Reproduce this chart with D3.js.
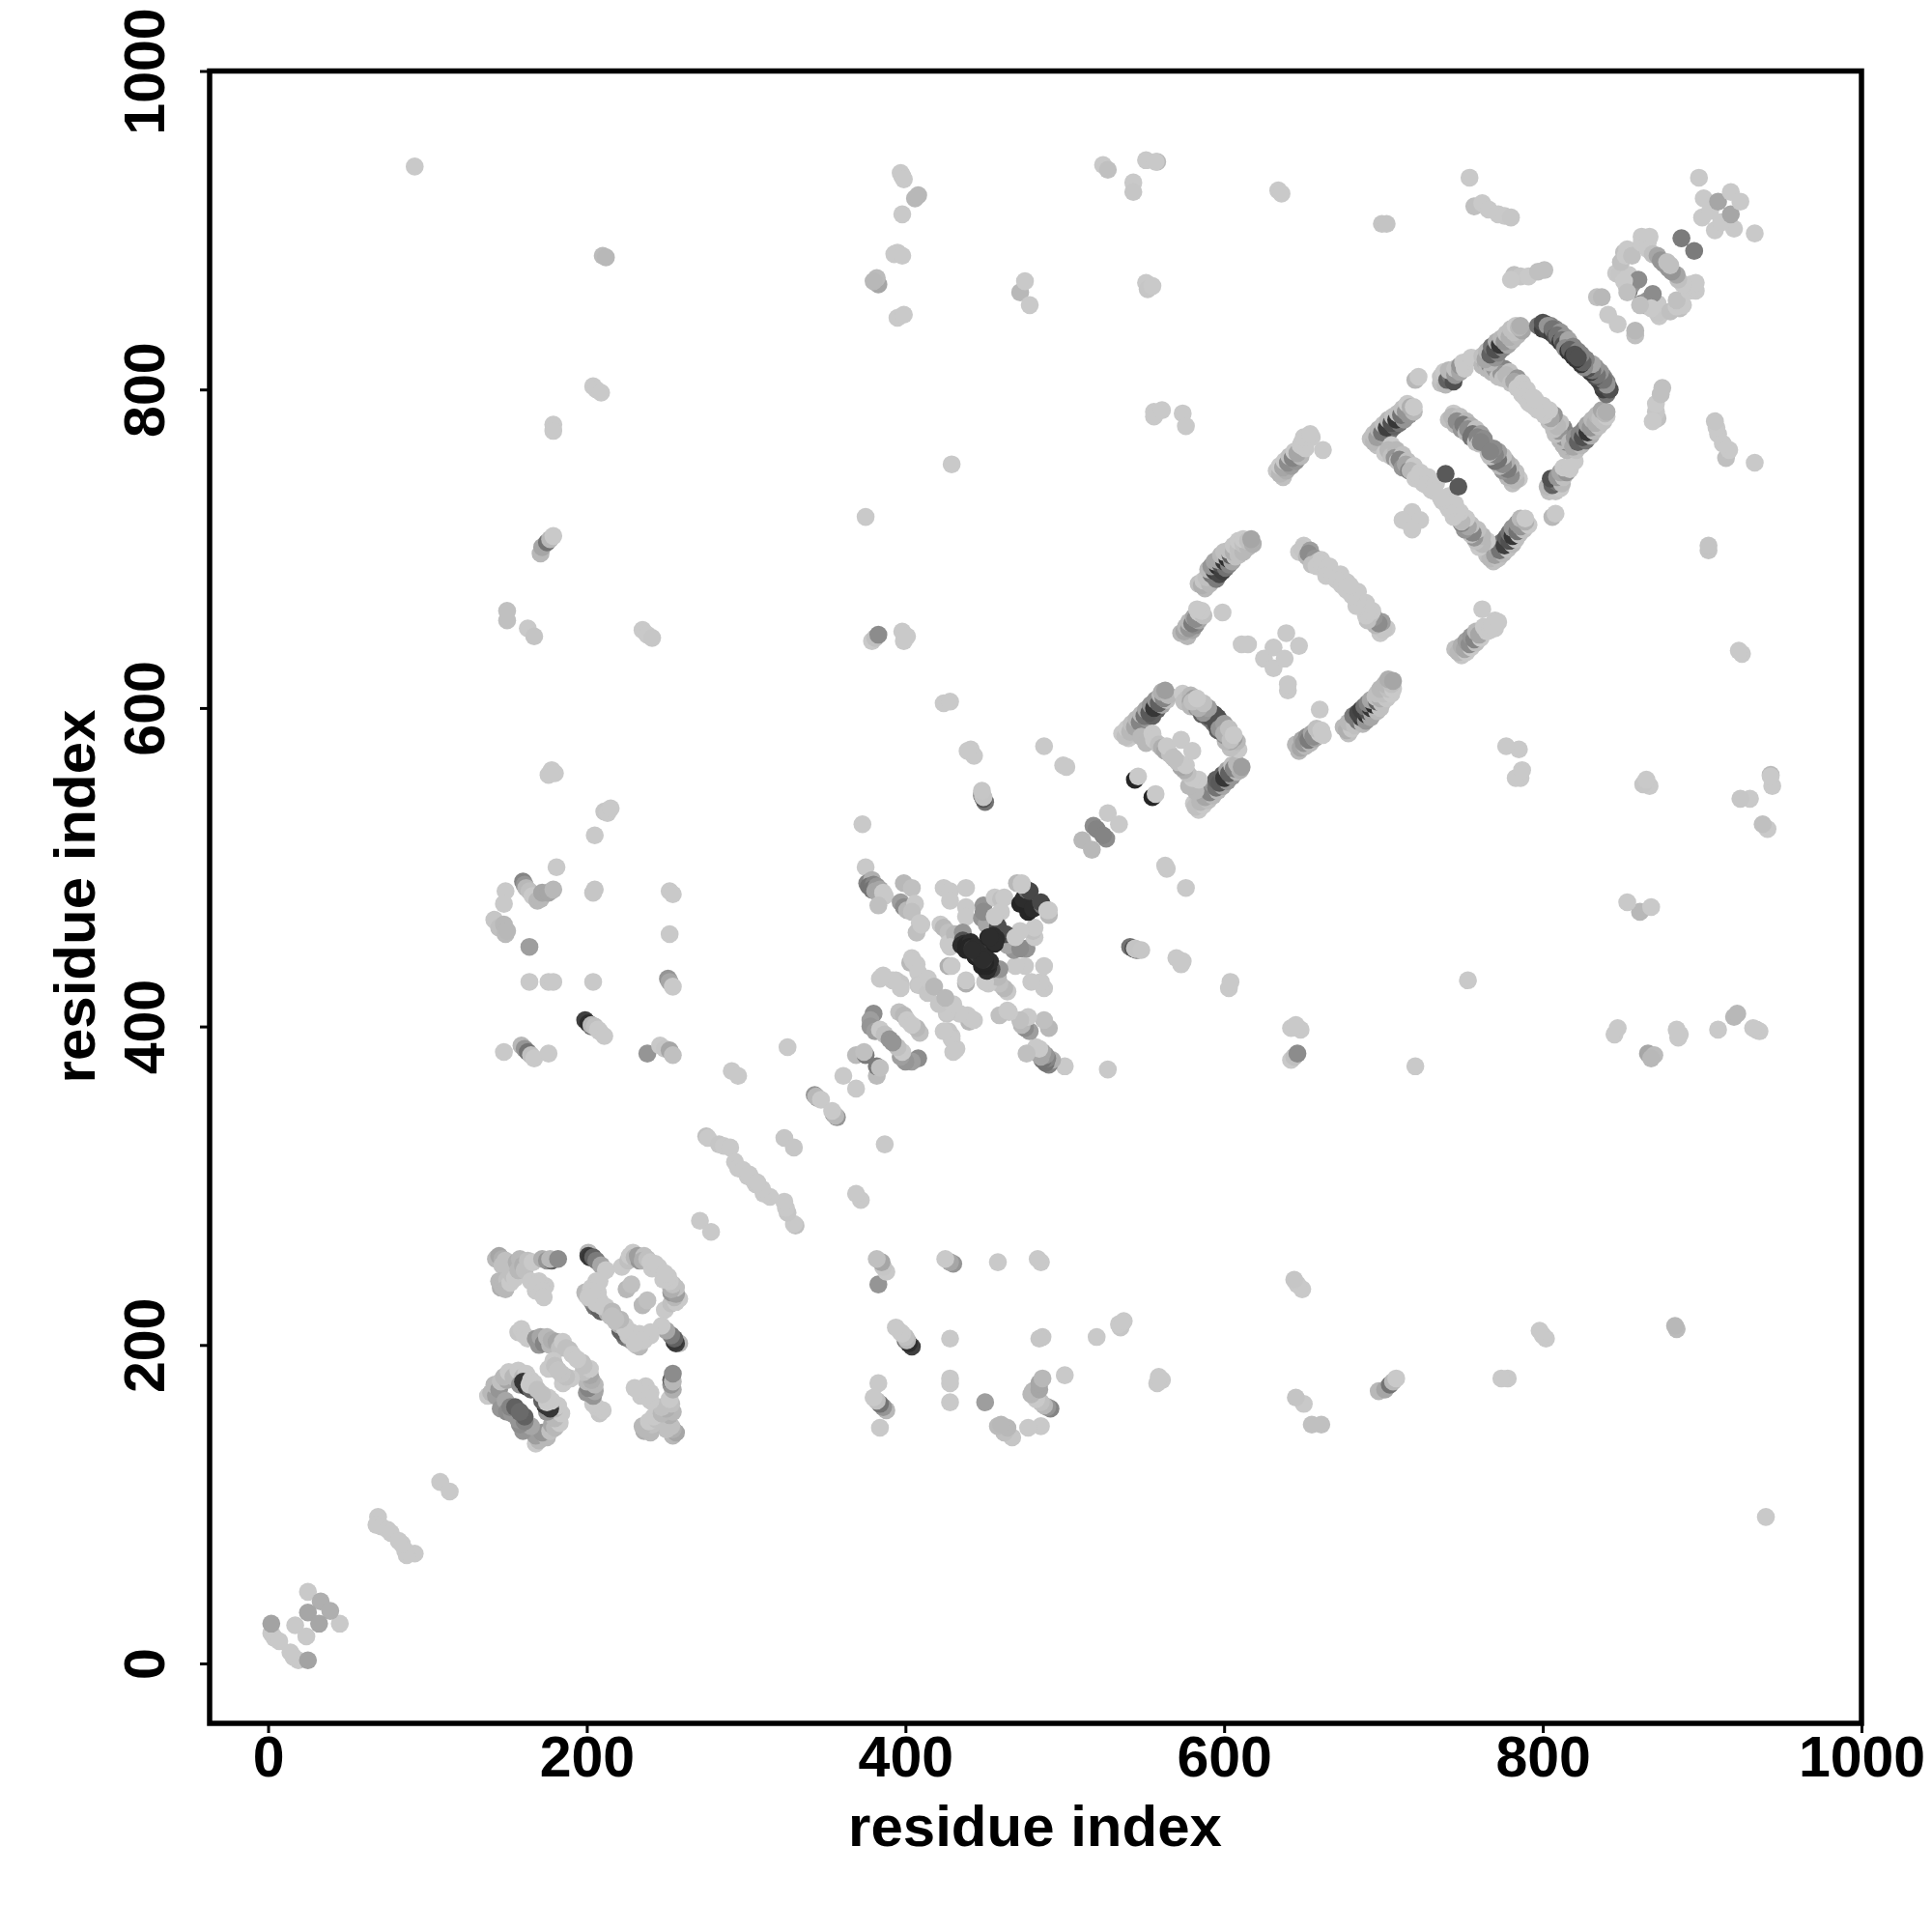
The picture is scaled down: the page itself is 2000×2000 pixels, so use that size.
<!DOCTYPE html>
<html><head><meta charset="utf-8">
<script src="https://cdn.jsdelivr.net/npm/d3@7"></script>
<style>html,body{margin:0;padding:0;background:#fff}svg{display:block}</style>
</head><body><svg id="chart" width="2000" height="2000"></svg>
<script>
const tickValues=[0,200,400,600,800,1000];
const axisTitle="residue index";
// each row: residue i, residue j, contact strength
const nTerm=[[2,19,0],[4,16,0],[7,14,0],[2,25,.22],[25,45,0],[33,39,.15],[25,32,.2],[17,24,0],[69,92,0],[68,87,0],[71,86,0],[75,84,0],[77,82,0],[108,114,0]];
const domainA=[[143,254,.1],[145,256,.2],[147,254,.15],[149,253,.05],[147,250,.05],[150,248,.05],[146,236,.15],[145,240,.1],[147,237,.1],[150,241,.05],[149,235,.1],[152,239,0],[153,244,.05],[155,242,0],[156,252,.15],[157,247,.1],[158,254,.1],[160,250,.15],[163,253,.05],[161,247,.05],[165,240,0],[166,252,0],[172,254,.15],[175,253,.3],[178,253,.6],[177,254,.1],[182,254,.35],[168,234,0],[174,237,0],[170,240,0],[169,238,0],[172,234,0],[173,230,0],
[157,208,.02],[159,210,0],[161,206,0],[163,204,0],[168,204,.3],[170,200,.3],[171,205,.2],[173,201,.4],[175,205,.1],[177,200,.1],[178,203,.15],[181,202,.2],[183,198,.05],[185,202,0],[187,198,.05],[189,197,.05],[191,194,0],[176,185,0],[179,190,0],[180,187,.05],[182,184,0],[184,182,.03],
[138,168,0],[140,170,.1],[143,168,.25],[142,175,.1],[145,172,.3],[146,177,.05],[150,178,.2],[148,180,.1],[151,183,0],[154,180,.1],[157,184,0],[160,180,.1],[162,182,0],[146,160,.3],[149,165,.2],[150,158,.35],[153,157,.3],[152,161,.4],[155,161,.6],[158,158,.55],[158,175,.3],[160,177,.85],[162,174,.85],[165,172,.6],[164,175,0],[165,178,0],[167,176,0],[169,172,.05],
[201,258,.1],[201,256,.8],[202,255,.85],[204,255,.6],[206,253,.45],[209,250,.2],[222,249,0],[226,253,.05],[227,256,0],[229,258,0],[230,255,.1],[233,253,.3],[232,256,.25],[236,256,.05],[235,253,.15],[238,254,.05],[240,252,0],[241,248,0],[243,251,0],[245,249,0],[206,240,0],[200,231,0],[199,233,.1],[202,229,.5],[204,226,.4],[205,224,.5],[207,224,.5],[208,222,.6],[209,221,.6],[203,228,.35],[205,231,.05],[202,234,.05],[206,226,0],[208,228,0],[212,224,0],[213,220,.15],[207,233,0],[203,236,0],[210,224,0],[212,247,0],[208,240,0],[203,234,0],[201,230,0],[225,235,.1],[228,238,.05],[215,218,.05],[216,221,.1],[218,216,.05]];
const chain=[[271,278,0],[275,331,.05],[276,330,0],[283,326,.02],[286,325,0],[290,324,0],[293,315,0],[295,311,0],[298,310,0],[301,306,0],[303,305,0],[302,307,0],[324,330,.02],[326,387,0],[343,357,.3],[345,355,.3],[344,356,.1],[347,354,0],[361,369,0],[369,382,.08],[375,382,.45],[374,384,.05],[291,372,0],[295,369,0]];
const longA=[[92,940,0],[150,661,.05],[150,655,.05],[163,650,0],[167,645,.03],[178,561,0],[176,558,0],[180,559,0],[179,778,0],[179,774,0],[171,697,.1],[172,701,.2],[175,704,.5],[177,706,.1],[179,708,0],[204,802,0],[206,800,0],[209,798,0],[210,884,.08],[212,883,.1],[235,649,0],[238,646,0],[241,644,.02],[211,535,.02],[213,534,0],[215,537,0],[205,520,0],[181,500,0],
[149,485,0],[148,477,0],[142,467,.02],[145,462,.05],[148,464,.1],[149,458,.08],[150,460,.1],[160,491,.4],[161,489,.3],[162,487,.1],[164,485,.05],[166,482,0],[169,479,.1],[171,480,.1],[172,484,.2],[176,484,.2],[179,486,.1],[205,486,.02],[204,484,.02],[252,485,0],[254,483,0],[252,458,0],[164,450,.25],[164,428,0],[176,428,0],[179,428,0],[204,428,0],[251,430,.3],[252,428,.2],[254,425,0],
[199,404,.8],[201,402,.9],[203,400,.5],[203,401,.1],[205,400,.05],[207,398,0],[208,397,0],[211,394,0],[148,384,0],[159,388,.1],[161,386,.3],[163,384,.5],[165,382,.05],[167,380,0],[176,383,0],[238,383,.3],[246,388,0],[249,386,.02],[252,385,.2],[254,382,.05]];
const cross=[[375,500,0],[376,490,.4],[379,492,.15],[377,488,.5],[380,489,.4],[379,486,.5],[382,488,.3],[381,485,.2],[384,486,.2],[386,484,0],[387,482,0],[383,476,.05],[399,490,.1],[404,487,.05],[397,478,.25],[399,475,.35],[401,473,.1],[406,477,0],[404,472,.05],[409,465,0],[407,459,.05],[410,464,0],[424,487,0],[428,485,0],[438,487,0],[428,479,0],[438,475,0],[438,469,0],[422,464,0],[424,462,.1],[427,459,.05],[427,452,0],[431,458,.1],[428,450,0],[436,459,.3],[436,454,.7],[435,451,.9],[437,452,.9],[438,448,.95],[438,451,.95],[441,453,.9],[440,450,.95],[442,449,.85],[444,450,.9],[444,444,.95],[445,446,.8],[447,447,.85],[449,444,.9],[448,442,.9],[449,476,.3],[448,468,.3],[451,464,.2],[449,472,.35],[456,481,0],[460,480,.05],[462,481,0],[460,472,0],[458,463,.7],[452,456,.95],[455,457,.9],[456,453,.9],[456,469,0],[470,490,.1],[472,477,.95],[474,480,.9],[476,486,.5],[478,485,.75],[473,490,0],[473,489,0],
[386,432,0],[384,430,0],[394,429,0],[397,427,.02],[392,429,0],[385,431,0],[403,440,.1],[404,443,0],[407,439,0],[405,441,0],[408,434,0],[408,426,.02],[409,426,0],[414,421,.02],[414,430,0],[418,425,.1],[397,424,0],[427,438,.15],[429,438,0],[380,408,.35],[378,404,.25],[378,400,.3],[381,397,.25],[384,398,0],[387,395,.05],[390,392,.3],[396,409,.05],[399,407,.1],[401,404,0]];
const longB=[[373,527,0],[375,720,0],[379,642,0],[381,644,.05],[383,646,.35],[398,648,0],[399,642,0],[401,645,0],[383,866,.2],[382,870,.08],[380,868,.1],[395,845,0],[399,847,0],[395,886,0],[393,885,0],[398,884,0],[398,934,.05],[397,936,0],[399,932,0],[406,920,.1],[408,922,.1],[398,910,0],[424,603,0],[428,604,0],[429,753,0],[441,574,0],[443,570,0],[439,573,0],[450,541,.5],[449,543,.7],[448,545,.5],[448,546,.2],[449,544,.03],[448,548,.02],[472,861,.1],[475,868,0],[478,853,0],[487,576,0],[499,564,0],[501,563,0],
[524,941,0],[527,938,.05],[551,944,0],[558,943,.08],[557,943,0],[543,930,0],[543,924,.02],[634,925,0],[636,923,0],[551,867,0],[552,863,.02],[555,865,0],[556,786,0],[556,783,0],[561,787,0],[574,785,0],[576,777,0]];
const middle=[[511,517,.1],[518,526,.35],[520,524,.4],[527,534,0],[544,555,.95],[546,557,0],[599,660,0],[611,640,0],[615,640,0],[639,647,0],[625,631,0],[631,638,0]];
const ringC=[[536,584,0],[540,581,0],[538,582,.05],[539,587,0],[543,584,.05],[541,585,.1],[542,590,.05],[546,587,.15],[544,588,.2],[545,593,.1],[549,590,.3],[547,591,.4],[548,596,.1],[552,593,.3],[550,595,.5],[551,599,.2],[555,595,.6],[553,597,.65],[554,602,.3],[558,599,.6],[556,600,.85],[557,605,.3],[561,602,.2],[559,603,.6],[560,608,.1],[564,605,.05],[562,606,.4],[561,610,.15],[565,608,.1],[563,611,.25],
[574,609,0],[577,606,.05],[575,604,.05],[579,608,.1],[579,604,.2],[581,606,.25],[579,601,.1],[583,600,.3],[585,603,.45],[586,596,.6],[589,600,.8],[587,598,.8],[590,594,.7],[592,597,.85],[593,591,.5],[596,594,.7],[595,590,.7],[597,587,.3],[600,590,.25],[600,584,.15],[603,587,.05],[604,580,.05],[606,583,0],
[548,582,.1],[551,578,.1],[555,584,0],[556,580,0],[559,577,.05],[561,575,.15],[563,573,.2],[566,571,.05],[564,576,0],[568,569,.05],[573,580,0]];
const strandD=[[573,647,.1],[577,645,.1],[575,648,.2],[576,651,.1],[580,649,.2],[578,650,.3],[578,654,.1],[582,652,.35],[580,653,.45],[581,657,.2],[584,655,.2],[582,656,.35],[584,660,0],[587,658,.05],[586,661,0],[583,662,0],
[584,678,.05],[588,675,.1],[586,677,.15],[587,680,.02],[591,678,.1],[589,682,.05],[592,684,.5],[595,681,.45],[590,687,.1],[594,686,.8],[597,684,.75],[592,689,.3],[596,689,.9],[599,686,.8],[594,692,.2],[598,690,.7],[601,688,.5],[596,693,.2],[600,692,.85],[603,690,.4],[598,696,.1],[602,694,.9],[605,692,.2],[600,698,.05],[604,696,.6],[607,695,.05],[603,699,.05],[606,698,.15],[609,696,.05],[606,702,.02],[609,700,.05],[612,698,.1],[609,705,0],[612,703,.05],[615,701,.1],[612,706,0],[615,705,.05],[618,703,.15],[617,706,.2],
[647,698,0],[650,702,0],[649,700,.02],[652,695,.1],[654,699,.25],[653,697,.35],[657,694,.3],[655,690,.05],[659,692,.05],[658,689,0],[661,693,0],[661,690,0],[664,686,0],[666,689,0],[664,683,0],[668,684,0],[670,681,0],[673,684,0],[671,680,0],[674,677,0],[677,679,0],
[633,749,.02],[637,745,.05],[635,747,.1],[635,752,0],[639,749,.15],[637,751,.2],[638,755,0],[642,752,.25],[640,754,.35],[641,758,.05],[645,755,.3],[643,757,.4],[644,761,0],[648,758,.1],[646,760,.2],[648,765,0],[651,763,0],[649,767,0],[652,768,0],[650,770,0],[655,770,0],[654,772,0],[662,762,0]];
const bigRing=[[713,718,0],[718,723,0],[712,718,0],[699,904,.03],[702,904,.03],[720,806,.1],[722,808,0],
[692,769,.05],[696,765,.05],[694,767,.1],[694,772,.05],[698,768,.1],[696,770,.25],[697,775,.1],[701,771,.2],[699,773,.5],[700,778,.05],[704,774,.5],[702,776,.8],[703,781,.1],[707,777,.6],[705,779,.7],[706,783,.05],[710,779,.5],[708,781,.85],[709,785,.05],[713,781,.3],[711,784,.5],[712,788,.05],[716,784,.3],[714,786,.3],[715,791,0],[719,786,.1],[717,789,.15],[719,789,0],
[701,760,0],[705,765,0],[703,762,.1],[705,758,.05],[708,762,.1],[707,757,.3],[709,755,.05],[712,759,.05],[710,756,.4],[712,751,.3],[715,755,.05],[714,753,.2],[716,749,.4],[719,752,0],[717,749,.1],[720,744,0],[723,748,0],[722,746,0],[725,741,0],[728,745,0],[727,740,0],[730,737,0],[733,741,0],[732,736,0],
[741,781,.05],[744,785,0],[743,783,.1],[745,778,.1],[748,783,.05],[746,780,.35],[749,775,.3],[752,780,.1],[750,778,.45],[752,773,.1],[755,777,.15],[753,775,.35],[755,770,.5],[758,775,.05],[756,772,.5],[758,767,.05],[761,772,.25],[759,770,.4],[760,766,.05],[763,769,.35],[761,767,.4],[739,747,.65],
[736,804,.05],[736,808,.03],[739,803,.1],[738,811,0],[740,806,.6],[742,809,.5],[744,805,.7],[741,812,.1],[745,809,.3],[745,813,.05],[748,811,.2],[748,815,.3],[751,813,0],[750,817,0],[755,820,0],
[762,815,.1],[766,820,.1],[764,817,.15],[765,813,.1],[769,817,.2],[767,815,.4],[768,811,.1],[772,815,.4],[770,813,.3],[772,808,.05],[776,813,.4],[774,810,.3],[775,807,.05],[779,811,.05],[777,809,.1],[780,804,.05],[784,807,.3],[782,805,.2],[784,801,0],[787,804,0],[786,800,0],[787,797,0],[790,800,0],[789,795,0],[791,792,0],[794,795,0],
[762,821,.05],[767,817,.1],[764,819,.2],[765,824,.1],[770,820,.3],[767,822,.6],[768,827,.5],[772,823,.4],[770,825,.7],[771,830,.15],[775,826,.4],[773,828,.85],[774,832,.1],[778,828,.2],[776,830,.3],[777,835,.05],[781,831,.1],[779,833,.15],[780,838,.05],[784,834,.1],[782,836,.05],[783,840,0],[787,837,.2],[785,839,.1],[786,840,.15],
[797,840,.5],[800,838,.8],[802,841,.5],[800,842,.7],[803,837,.75],[805,840,.4],[803,840,.3],[806,835,.8],[808,838,.4],[806,838,.5],[808,833,.7],[811,836,.3],[809,834,.5],[811,830,.85],[814,833,.3],[812,831,.5],[813,828,.7],[816,831,.2],[814,826,.35],[816,824,.85],[819,827,.4],[817,825,.6],[819,821,.85],[822,824,.4],[820,822,.7]];
const cTerm=[[754,933,0],[757,915,.05],[762,917,0],[766,913,0],[772,910,0],[776,909,0],[780,908,.02],[782,872,.05],[786,871,.02],[780,869,0],[791,871,0],[797,874,.05],[801,875,.05],
[834,858,.05],[837,858,.1],[841,847,0],[846,873,0],[848,872,.02],[854,872,0],[854,862,.5],[853,864,.2],[856,866,.3],[860,869,.35],[851,868,0],[853,861,.05],[849,880,.05],[851,886,.05],[852,884,0],[853,888,0],[856,884,.05],[862,896,0],[862,892,0],[864,895,0],[866,893,0],[867,896,0],[866,888,0],[869,885,.05],[872,884,.2],[874,881,.3],[876,879,.3],[878,880,.05],[887,895,.45],[898,933,0],[901,920,0],[900,908,0],[905,912,0],[910,918,.2],[918,924,0]];

const contacts=[].concat(nTerm,domainA,chain,longA,cross,longB,middle,ringC,strandD,bigRing,cTerm);
const x=d3.scaleLinear().domain([-36.7,1000]).range([217,1927]);
const y=d3.scaleLinear().domain([-37.6,1000]).range([1784,73.5]);
const shade=d3.scaleLinear().domain([0,1]).range(["#c9c9c9","#1c1c1c"]);
const svg=d3.select("#chart");
const font='"Liberation Sans",Arial,sans-serif';
svg.append("rect").attr("width",2000).attr("height",2000).attr("fill","#fff");
const both=contacts.flatMap(d=>[{a:d[0],b:d[1],s:d[2]},{a:d[1],b:d[0],s:d[2]}]);
svg.append("g").selectAll("circle").data(both).join("circle")
 .attr("cx",d=>x(d.a)).attr("cy",d=>y(d.b)).attr("r",9.3).attr("fill",d=>shade(d.s));
svg.append("rect").attr("x",217).attr("y",73.5).attr("width",1710).attr("height",1710.5)
 .attr("fill","none").attr("stroke","#000").attr("stroke-width",5.5);
const gx=svg.append("g").attr("transform","translate(0,1784)")
 .call(d3.axisBottom(x).tickValues(tickValues).tickSize(10).tickFormat(d3.format("d")));
const gy=svg.append("g").attr("transform","translate(217,0)")
 .call(d3.axisLeft(y).tickValues(tickValues).tickSize(10).tickFormat(d3.format("d")));
[gx,gy].forEach(g=>{g.select(".domain").remove();
 g.selectAll("line").attr("stroke","#000").attr("stroke-width",3);
 g.selectAll("text").attr("fill","#000").style("font-family",font).style("font-size","59px").style("font-weight","700");});
gx.selectAll("text").attr("y",55).attr("dy",0);
gy.selectAll("text").attr("x",null).attr("dy",0).attr("text-anchor","middle").attr("transform","translate(-47,0) rotate(-90)");
svg.append("text").attr("x",1071.5).attr("y",1911).attr("text-anchor","middle").text(axisTitle)
 .style("font-family",font).style("font-size","60px").style("font-weight","700");
svg.append("text").attr("transform","translate(98,928) rotate(-90)").attr("text-anchor","middle").text(axisTitle)
 .style("font-family",font).style("font-size","60px").style("font-weight","700");
</script></body></html>
